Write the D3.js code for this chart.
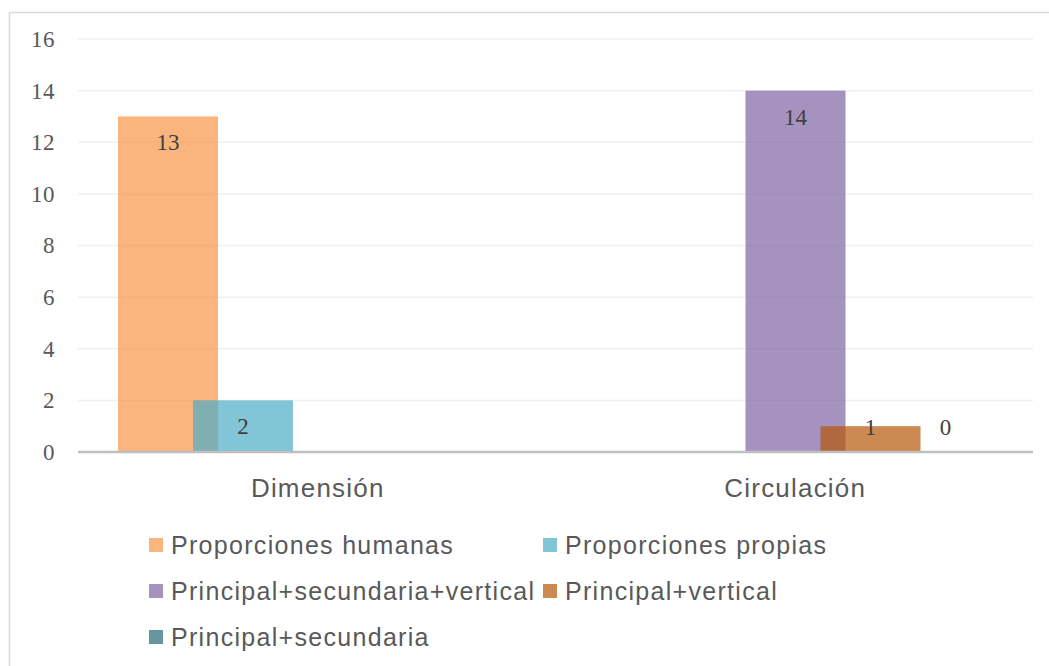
<!DOCTYPE html>
<html>
<head>
<meta charset="utf-8">
<script src="https://cdn.jsdelivr.net/npm/d3@7"></script>
<style>
  body { margin: 0; background: #fff; }
  svg { display: block; }
</style>
</head>
<body>
<div id="chart"></div>
<script>
// categories and series
var categories = ['Dimensión', 'Circulación'];
var seriesNames = ['Proporciones humanas', 'Proporciones propias',
                   'Principal+secundaria+vertical', 'Principal+vertical',
                   'Principal+secundaria'];
// values per category, one per series (null = no bar)
var dimensionValues   = [13, 2, null, null, null];
var circulacionValues = [null, null, 14, 1, 0];
var yTicks = [0, 2, 4, 6, 8, 10, 12, 14, 16];

var colors = ['#f79646', '#4bacc6', '#8064a2', '#b65708', '#276a7c'];

function main(){
    var W = 1049, H = 666;
    var plot = { left: 78, right: 1033, top: 39, bottom: 452 };

    var svg = d3.select('#chart').append('svg')
                .attr('width', W)
                .attr('height', H);

    // chart area border
    svg.append('rect')
       .attr('x', 9.5).attr('y', 12.5)
       .attr('width', 1100).attr('height', 700)
       .attr('fill', '#fff')
       .attr('stroke', '#d9d9d9')
       .attr('stroke-width', 1.5);

    var x0 = d3.scaleBand()
               .domain(categories)
               .range([plot.left, plot.right]);
    // left edge of each series bar inside a category (bars overlap)
    var x1 = d3.scalePoint()
               .domain(seriesNames)
               .range([40, 340]);
    var barW = 100;
    var y = d3.scaleLinear()
              .domain([0, 16])
              .range([plot.bottom, plot.top]);

    // gridlines
    svg.append('g')
       .selectAll('line')
       .data(yTicks.filter(function(t){ return t > 0; }))
     .enter().append('line')
       .attr('x1', plot.left).attr('x2', plot.right)
       .attr('y1', function(d){ return y(d); })
       .attr('y2', function(d){ return y(d); })
       .attr('stroke', '#efefef')
       .attr('stroke-width', 1.5);

    // y axis labels
    var yAxis = svg.append('g')
       .attr('transform', 'translate(' + (plot.left - 23) + ',0)')
       .call(d3.axisLeft(y).tickValues(yTicks).tickSize(0).tickPadding(0));
    yAxis.select('.domain').remove();
    yAxis.selectAll('text')
         .attr('font-family', '"Liberation Serif", "DejaVu Serif", serif')
         .attr('font-size', 23)
         .attr('letter-spacing', 0.5)
         .attr('fill', '#595959');

    var rows = [];
    var valuesByCat = [dimensionValues, circulacionValues];
    seriesNames.forEach(function(s, i){
        categories.forEach(function(c, j){
            var v = valuesByCat[j][i];
            if(v !== null) rows.push({ cat: c, series: s, idx: i, value: v });
        });
    });

    // bars, series order so later series draw on top
    svg.append('g')
       .selectAll('rect')
       .data(rows)
     .enter().append('rect')
       .attr('x', function(d){ return x0(d.cat) + x1(d.series); })
       .attr('width', barW)
       .attr('y', function(d){ return y(d.value); })
       .attr('height', function(d){ return y(0) - y(d.value); })
       .attr('fill', function(d){ return colors[d.idx]; })
       .attr('fill-opacity', 0.7);

    // x axis line
    svg.append('line')
       .attr('x1', plot.left).attr('x2', plot.right)
       .attr('y1', y(0)).attr('y2', y(0))
       .attr('stroke', '#bfbfbf')
       .attr('stroke-width', 2.5);

    // data labels
    svg.append('g')
       .selectAll('text')
       .data(rows)
     .enter().append('text')
       .attr('x', function(d){ return x0(d.cat) + x1(d.series) + barW / 2; })
       .attr('y', function(d){ return Math.min(y(d.value) + 26, y(0) - 25); })
       .attr('dy', '0.35em')
       .attr('text-anchor', 'middle')
       .attr('font-family', '"Liberation Serif", "DejaVu Serif", serif')
       .attr('font-size', 23)
       .attr('fill', '#404040')
       .text(function(d){ return d.value; });

    // category labels
    svg.append('g')
       .selectAll('text')
       .data(categories)
     .enter().append('text')
       .attr('x', function(d){ return x0(d) + x0.bandwidth() / 2 + 1; })
       .attr('y', 488)
       .attr('dy', '0.35em')
       .attr('text-anchor', 'middle')
       .attr('font-family', '"Liberation Sans", Arial, sans-serif')
       .attr('font-size', 26)
       .attr('letter-spacing', 1.2)
       .attr('fill', '#595959')
       .text(function(d){ return d; });

    // legend, two columns
    var legend = svg.append('g')
       .selectAll('g')
       .data(seriesNames)
     .enter().append('g')
       .attr('transform', function(d, i){
           return 'translate(' + (i % 2 === 0 ? 149 : 543) + ',' + (545 + Math.floor(i / 2) * 46) + ')';
       });
    legend.append('rect')
       .attr('x', 0).attr('y', -7)
       .attr('width', 14).attr('height', 14)
       .attr('fill', function(d, i){ return colors[i]; })
       .attr('fill-opacity', 0.7);
    legend.append('text')
       .attr('x', 22)
       .attr('dy', '0.35em')
       .attr('font-family', '"Liberation Sans", Arial, sans-serif')
       .attr('font-size', 25)
       .attr('letter-spacing', 1.3)
       .attr('fill', '#595959')
       .text(function(d){ return d; });
}

main();
</script>
</body>
</html>
